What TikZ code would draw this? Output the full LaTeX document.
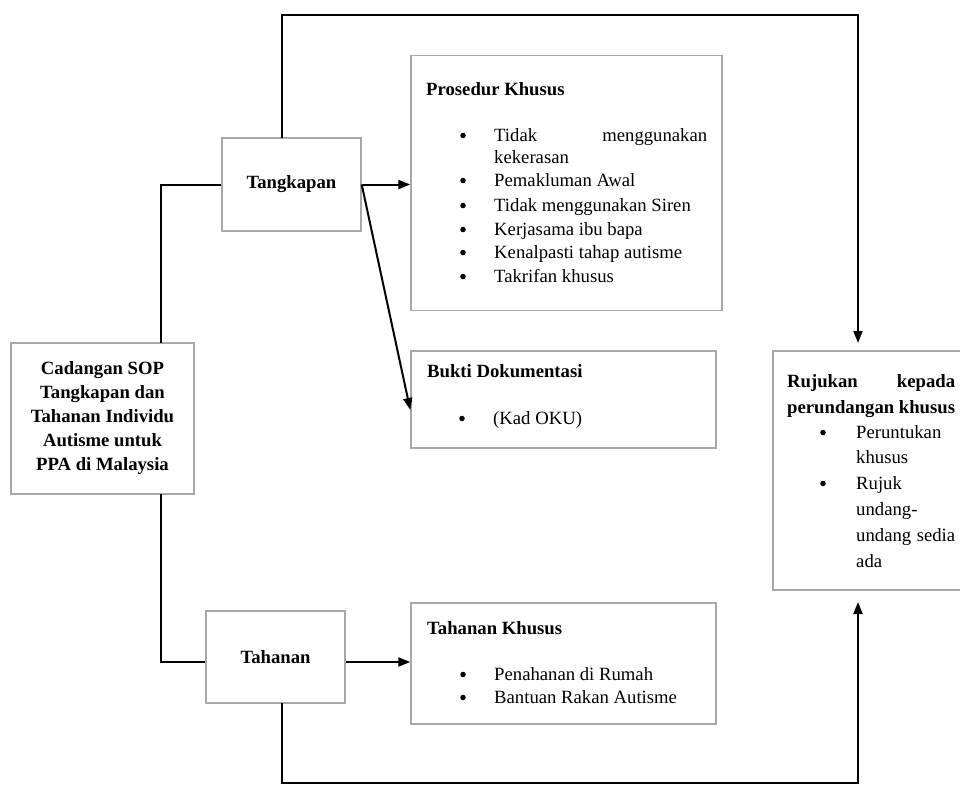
\documentclass[tikz,border=0pt]{standalone}
\usepackage{fontspec}
\setmainfont{Liberation Serif}
\usetikzlibrary{arrows.meta}
\definecolor{boxgray}{HTML}{A8A8A8}
\begin{document}
\begin{tikzpicture}[x=1pt,y=-1pt,
  box/.style={draw=boxgray, line width=1.4pt, inner sep=0pt},
  conn/.style={draw=black, line width=2pt},
  arr/.style={conn, -{Triangle[length=12pt,width=9pt]}},
  txt/.style={inner sep=0pt, anchor=base west, font=\fontsize{18.7}{24}\selectfont},
  btxt/.style={inner sep=0pt, anchor=base west, font=\fontsize{18.7}{24}\selectfont\bfseries},
  bul/.style={circle, fill=black, inner sep=0pt, minimum size=5.5pt, yshift=5.5pt}]
\useasboundingbox (0,0) rectangle (960,784);

% boxes
\node[box, align=center, font=\fontsize{18.7}{24}\selectfont\bfseries,
      minimum width=183pt, minimum height=151pt] (cad) at (102.5,418.5)
  {Cadangan SOP\\Tangkapan dan\\Tahanan Individu\\Autisme untuk\\PPA di Malaysia};
\node[box, font=\fontsize{18.7}{24}\selectfont\bfseries,
      minimum width=139pt, minimum height=93pt] (tk) at (291.5,184.5) {Tangkapan};
\node[box, font=\fontsize{18.7}{24}\selectfont\bfseries,
      minimum width=139pt, minimum height=92pt] (th) at (275.5,657) {Tahanan};
\node[box, minimum width=311pt, minimum height=255pt] (pros) at (566.5,183) {};
\node[box, minimum width=305pt, minimum height=97pt] (bk) at (563.5,399.5) {};
\node[box, minimum width=305pt, minimum height=121pt] (tkh) at (563.5,663.5) {};
\node[box, minimum width=192pt, minimum height=239pt] (rj) at (869,470.5) {};

% Prosedur Khusus
\node[btxt] (p0) at (426,95) {Prosedur Khusus};
\node[bul] (pb1) at (463,141) {};
\node[txt] (p1) at (494,141) {\hbox to 213pt{Tidak\hfill menggunakan}};
\node[txt] (p1b) at (494,163) {kekerasan};
\node[bul] (pb2) at (463,186) {};
\node[txt] (p2) at (494,186) {Pemakluman Awal};
\node[bul] (pb3) at (463,211) {};
\node[txt] (p3) at (494,211) {Tidak menggunakan Siren};
\node[bul] (pb4) at (463,235) {};
\node[txt] (p4) at (494,235) {Kerjasama ibu bapa};
\node[bul] (pb5) at (463,258) {};
\node[txt] (p5) at (494,258) {Kenalpasti tahap autisme};
\node[bul] (pb6) at (463,282) {};
\node[txt] (p6) at (494,282) {Takrifan khusus};

% Bukti Dokumentasi
\node[btxt] (b0) at (427,377) {Bukti Dokumentasi};
\node[bul] (bb1) at (462,424) {};
\node[txt] (b1) at (493,424) {(Kad OKU)};

% Tahanan Khusus
\node[btxt] (t0) at (427,634) {Tahanan Khusus};
\node[bul] (tb1) at (463,680) {};
\node[txt] (t1) at (494,680) {Penahanan di Rumah};
\node[bul] (tb2) at (463,703) {};
\node[txt] (t2) at (494,703) {Bantuan Rakan Autisme};

% Rujukan
\node[btxt] (r0) at (787,387) {\hbox to 168pt{Rujukan\hfill kepada}};
\node[btxt] (r1) at (787,413) {perundangan khusus};
\node[bul] (rb1) at (823,438) {};
\node[txt] (r2) at (856,438) {Peruntukan};
\node[txt] (r3) at (856,463) {khusus};
\node[bul] (rb2) at (823,489) {};
\node[txt] (r4) at (856,489) {Rujuk};
\node[txt] (r5) at (856,515) {undang-};
\node[txt] (r6) at (856,541) {\hbox to 99pt{undang\hfill sedia}};
\node[txt] (r7) at (856,567) {ada};

% connector anchor points on box edges
\coordinate (cadT) at (161,343);
\coordinate (cadB) at (161,494);
\coordinate (tkT) at (282,138);
\coordinate (thB) at (282,703);
\coordinate (rjT) at (858,351);
\coordinate (rjB) at (858,590);

% connectors
\draw[conn] (cadT) |- (tk.west);
\draw[conn] (cadB) |- ([yshift=-5pt]th.west);
\draw[arr] (tk.east) -- (tk.east -| pros.west);
\draw[arr] (tk.east) -- ([yshift=-10.5pt]bk.west);
\draw[arr] ([yshift=-5pt]th.east) -- ([yshift=-5pt]th.east -| tkh.west);
\draw[arr, shorten >=8pt] (tkT) -- (282,15) -| (rjT);
\draw[arr, shorten >=12pt] (thB) -- (282,783) -| (rjB);
\end{tikzpicture}
\end{document}
